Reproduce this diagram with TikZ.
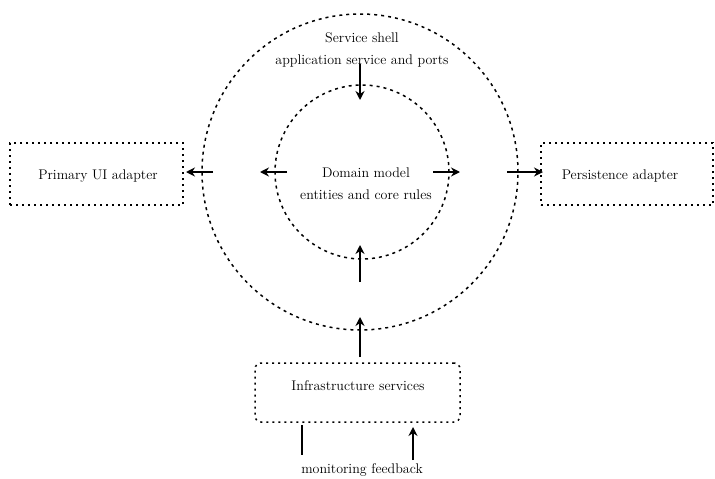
\documentclass[tikz,border=0pt]{standalone}
\usetikzlibrary{arrows.meta}
\tikzset{
  dotline/.style={line width=1.5pt, dash pattern=on 2pt off 4pt},
  ring/.style={draw, circle, line width=1.5pt, dash pattern=on 3pt off 4pt, inner sep=0pt},
  boxstyle/.style={draw, dotline, minimum height=62pt, inner sep=0pt},
  lbl/.style={font=\fontsize{14}{22}\selectfont, align=center, inner sep=1pt},
  arr/.style={line width=1.5pt, -{Stealth[length=9pt,width=9pt]}},
  plain/.style={line width=1.5pt}
}
\begin{document}
\begin{tikzpicture}[x=1pt,y=-1pt]
\useasboundingbox (0,0) rectangle (715,479);
% circles
\node[ring, minimum size=316pt] (outer) at (360,172) {};
\node[ring, minimum size=174pt] (inner) at (362,172) {};
% texts
\node[lbl] (top) at (362,50) {Service shell\\application service and ports};
\node[lbl] (core) at (366,184) {Domain model\\entities and core rules};
% side boxes
\node[boxstyle, minimum width=173pt] (left) at (96.5,174) {};
\node[lbl] (lefttext) at (98,176) {Primary UI adapter};
\node[boxstyle, minimum width=172pt] (right) at (627,174) {};
\node[lbl] (righttext) at (620,176) {Persistence adapter};
% bottom box
\node[draw, dotline, rounded corners=6pt, minimum width=205pt, minimum height=59pt] (bottom) at (357.5,392.5) {};
\node[lbl] (bottomtext) at (358,386) {Infrastructure services};
\node[lbl] (looplbl) at (362,470) {monitoring feedback};
% arrow end points
\coordinate (t1) at (360,64);  \coordinate (t2) at (360,100);
\coordinate (b1) at (360,282); \coordinate (b2) at (360,245);
\coordinate (c1) at (360,357); \coordinate (c2) at (360,317);
\coordinate (l1) at (287,172); \coordinate (l2) at (260,172);
\coordinate (r1) at (433,172); \coordinate (r2) at (460,172);
\coordinate (ol1) at (213,172); \coordinate (ol2) at (186,172);
\coordinate (or1) at (507,172); \coordinate (or2) at (543,172);
\coordinate (lp1) at (302,425); \coordinate (lp2) at (302,455);
\coordinate (rp1) at (413,460); \coordinate (rp2) at (413,427);
\draw[arr] (t1) -- (t2);
\draw[arr] (b1) -- (b2);
\draw[arr] (c1) -- (c2);
\draw[arr] (l1) -- (l2);
\draw[arr] (r1) -- (r2);
\draw[arr] (ol1) -- (ol2);
\draw[arr] (or1) -- (or2);
\draw[plain] (lp1) -- (lp2);
\draw[arr] (rp1) -- (rp2);
\end{tikzpicture}
\end{document}
